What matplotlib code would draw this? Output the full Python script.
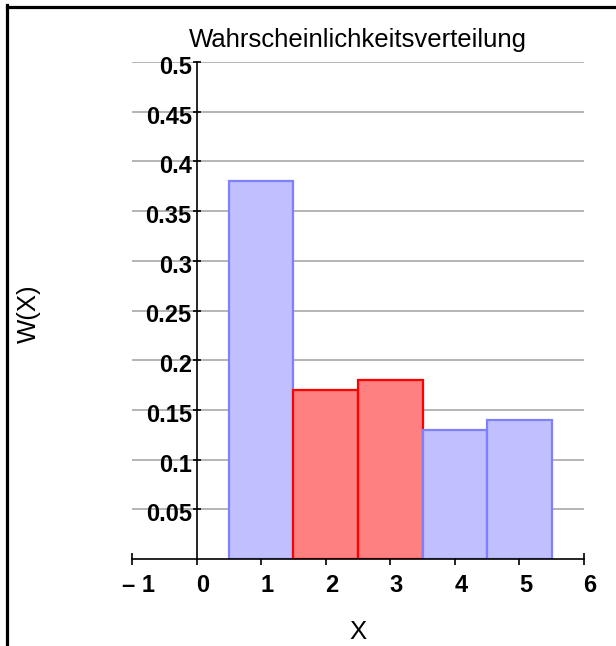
import matplotlib
matplotlib.use("Agg")
import matplotlib.pyplot as plt
from matplotlib.lines import Line2D
from matplotlib.ticker import FixedLocator, FixedFormatter
import matplotlib.transforms as mtransforms

plt.rcParams['font.family'] = ['Liberation Sans', 'DejaVu Sans']
plt.rcParams['font.weight'] = 'bold'

# Data
x_values = [1, 2, 3, 4, 5]
probabilities = [0.38, 0.17, 0.18, 0.13, 0.14]
highlighted = [False, True, True, False, False]
title = "Wahrscheinlichkeitsverteilung"
x_label = "X"
y_label = "W(X)"
y_ticks = [0.05, 0.1, 0.15, 0.2, 0.25, 0.3, 0.35, 0.4, 0.45, 0.5]
y_tick_labels = ["0.05", "0.1", "0.15", "0.2", "0.25", "0.3", "0.35", "0.4", "0.45", "0.5"]
x_major_ticks = [0, 1, 2, 3, 4, 5]
x_major_labels = ["0", "1", "2", "3", "4", "5"]
x_end_ticks = [-1, 6]
x_end_labels = ["\u2013 1", "6"]

W, H = 616, 646
fig = plt.figure(figsize=(W / 100, H / 100), dpi=100)
ax = fig.add_axes([132 / W, 87 / H, (584 - 132) / W, (559 - 62) / H])
ax.set_xlim(-1, 6)
ax.set_ylim(0, 0.5)

blue_face, blue_edge = "#c0c0ff", "#8080ff"
red_face, red_edge = "#ff8080", "#ff0000"
faces = [red_face if h else blue_face for h in highlighted]
edges = [red_edge if h else blue_edge for h in highlighted]
ax.bar(x_values, probabilities, width=1.0, color=faces, edgecolor=edges,
       linewidth=1.6, zorder=2)

# grid
ax.set_axisbelow(True)
for yv in y_ticks:
    ax.axhline(yv, color="#a8a8a8", linewidth=1.2, zorder=0)

# spines
for s in ["top", "right"]:
    ax.spines[s].set_visible(False)
ax.spines["left"].set_position(("data", 0))
ax.spines["left"].set_bounds(0, 0.5)
ax.spines["left"].set_linewidth(1.2)
ax.spines["bottom"].set_linewidth(1.2)
ax.spines["left"].set_zorder(3)
ax.spines["bottom"].set_zorder(3)

# y ticks
ax.set_yticks(y_ticks)
ax.set_yticklabels(y_tick_labels)
ax.tick_params(axis="y", direction="inout", length=6, width=1.2, pad=0.5,
               labelsize=17)
for lab in ax.get_yticklabels():
    lab.set_transform(lab.get_transform() +
                      mtransforms.ScaledTranslation(0, -3 / 100, fig.dpi_scale_trans))

# x ticks
ax.xaxis.set_major_locator(FixedLocator(x_major_ticks))
ax.xaxis.set_major_formatter(FixedFormatter(x_major_labels))
ax.xaxis.set_minor_locator(FixedLocator(x_end_ticks))
ax.xaxis.set_minor_formatter(FixedFormatter(x_end_labels))
ax.tick_params(axis="x", which="major", direction="out", length=4, width=1.2,
               pad=7, labelsize=17)
ax.tick_params(axis="x", which="minor", direction="inout", length=9, width=1.2,
               pad=6.5, labelsize=17)
offset = mtransforms.ScaledTranslation(6 / 100, 0, fig.dpi_scale_trans)
for lab in ax.get_xticklabels(which="both"):
    lab.set_transform(lab.get_transform() + offset)

# texts
fig.text(358 / W, 1 - 40 / H, title, ha="center", va="center", fontsize=18.5,
         fontweight="normal")
fig.text(358 / W, 1 - 632 / H, x_label, ha="center", va="center", fontsize=18.5,
         fontweight="normal")
fig.text(29 / W, 1 - 314 / H, y_label, ha="center", va="center", fontsize=18.5,
         fontweight="normal", rotation=90)

# frame (top and left)
fig.add_artist(Line2D([6.5 / W, 1], [1 - 6.5 / H, 1 - 6.5 / H],
                      color="black", linewidth=2.3, transform=fig.transFigure))
fig.add_artist(Line2D([6.5 / W, 6.5 / W], [0, 1 - 5 / H],
                      color="black", linewidth=2.3, transform=fig.transFigure))

fig.savefig("out.png", dpi=100)
